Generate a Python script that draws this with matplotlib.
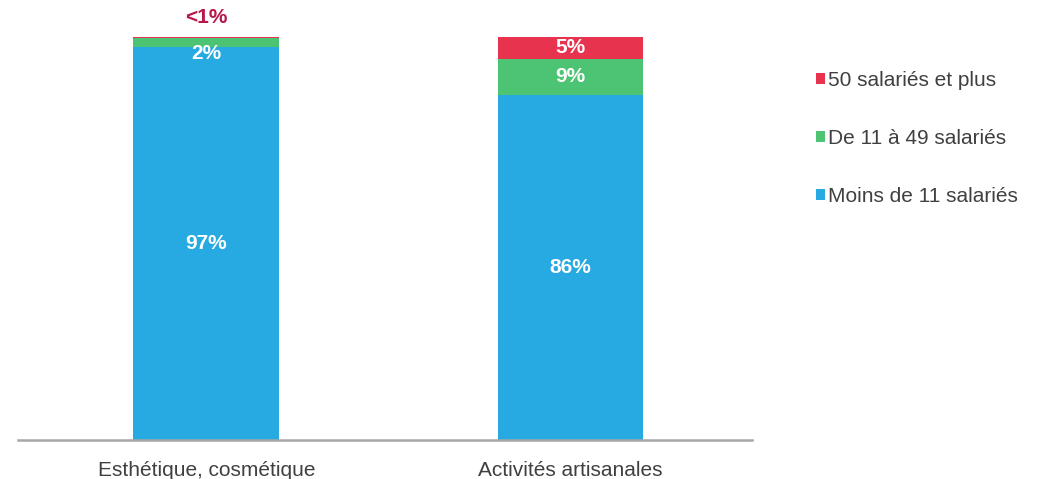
import matplotlib
matplotlib.use("Agg")
import matplotlib.pyplot as plt
import numpy as np

plt.rcParams['font.family'] = ['Liberation Sans', 'DejaVu Sans']

# donnees
categories = ["Esthétique, cosmétique", "Activités artisanales"]
series = ["Moins de 11 salariés", "De 11 à 49 salariés", "50 salariés et plus"]
moins_11 = [97.4, 85.6]
de_11_49 = [2.2, 9.0]
plus_50 = [0.4, 5.4]
labels_moins_11 = ["97%", "86%"]
labels_11_49 = ["2%", "9%"]
labels_50 = ["<1%", "5%"]

colors = ["#27a9e1", "#4cc473", "#e8334f"]

fig = plt.figure(figsize=(10.43, 4.79), dpi=100)
ax = fig.add_axes([0.017, 0.081, 0.704, 0.842])

x = np.arange(len(categories))
w = 0.4
bottoms = np.zeros(len(categories))
for vals, col, name in zip([moins_11, de_11_49, plus_50], colors, series):
    ax.bar(x, vals, w, bottom=bottoms, color=col, label=name, linewidth=0)
    bottoms = bottoms + np.array(vals)

# etiquettes
lab_kw = dict(ha="center", va="center", color="white", fontsize=15, fontweight="bold")
for i in range(len(categories)):
    ax.text(x[i], moins_11[i] / 2, labels_moins_11[i], **lab_kw)
    if i == 0:
        # petite part : etiquette decalee vers le bas
        ax.text(x[i], moins_11[i] - 1.5, labels_11_49[i], **lab_kw)
        ax.text(x[i], 104.8, labels_50[i], ha="center", va="center",
                color="#b8174a", fontsize=15, fontweight="bold", clip_on=False)
    else:
        ax.text(x[i], moins_11[i] + de_11_49[i] / 2, labels_11_49[i], **lab_kw)
        ax.text(x[i], moins_11[i] + de_11_49[i] + plus_50[i] / 2, labels_50[i], **lab_kw)

ax.set_xlim(-0.518, 1.499)
ax.set_ylim(0, 100)
ax.set_xticks(x)
ax.set_xticklabels(categories, fontsize=15, color="#404040")
ax.tick_params(axis="x", length=0, pad=15)
ax.set_yticks([])
for s in ["top", "right", "left"]:
    ax.spines[s].set_visible(False)
ax.spines["bottom"].set_color("#a6a6a6")
ax.spines["bottom"].set_linewidth(1.8)

handles, labs = ax.get_legend_handles_labels()
fig.legend(handles[::-1], labs[::-1], loc="upper left",
           bbox_to_anchor=(0.764, 0.891), frameon=False,
           fontsize=15, handlelength=0.45, handleheight=0.45,
           handletextpad=0.15, labelspacing=1.88, labelcolor="#404040")

fig.savefig("out.png", dpi=100)
